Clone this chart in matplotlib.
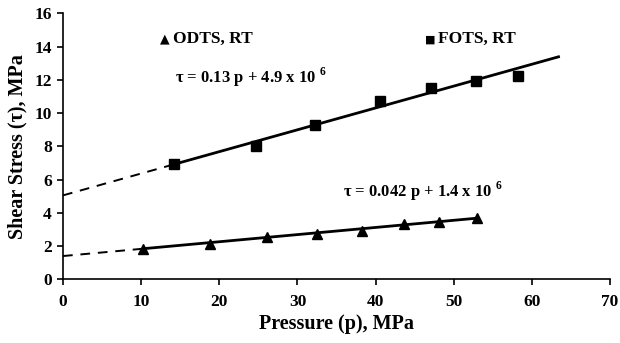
import numpy as np
import matplotlib
matplotlib.use("Agg")
import matplotlib.pyplot as plt

plt.rcParams['font.family'] = ['Liberation Serif', 'DejaVu Serif']
plt.rcParams['font.weight'] = 'bold'
plt.rcParams['mathtext.fontset'] = 'custom'
plt.rcParams['mathtext.rm'] = 'Liberation Serif'
plt.rcParams['mathtext.bf'] = 'Liberation Serif:bold'

# FOTS, RT data (pressure MPa, shear stress MPa)
fots_p = [14.2, 24.7, 32.3, 40.6, 47.1, 52.8, 58.2]
fots_tau = [6.94, 8.05, 9.28, 10.7, 11.54, 11.95, 12.25]
# ODTS, RT data
odts_p = [10.3, 18.8, 26.1, 32.5, 38.3, 43.6, 48.1, 53.0]
odts_tau = [1.81, 2.13, 2.57, 2.73, 2.91, 3.31, 3.45, 3.71]

# fitted lines as drawn (slope, intercept) and solid range
fots_fit = (0.1315, 5.05)
fots_range = (14.2, 63.4)
odts_fit = (0.043, 1.4)
odts_range = (10.3, 53.0)


def main():
    fig = plt.figure(figsize=(6.2, 3.43), dpi=100)
    ax = fig.add_axes([0.1016, 0.1857, 0.8824, 0.7753])

    for (m, b), (lo, hi) in [(fots_fit, fots_range), (odts_fit, odts_range)]:
        xs = np.array([lo, hi])
        ax.plot(xs, m * xs + b, color='black', lw=2.0, zorder=2)
        xd = np.array([0, lo])
        ax.plot(xd, m * xd + b, color='black', lw=1.4, ls=(0, (5, 4)), zorder=2)

    ax.plot(fots_p, fots_tau, 's', color='black', ms=6.5, zorder=3)
    ax.plot(odts_p, odts_tau, '^', color='black', ms=7.5, zorder=3)

    ax.set_xlim(0, 70)
    ax.set_ylim(0, 16)
    ax.set_xticks(range(0, 71, 10))
    ax.set_yticks(range(0, 17, 2))
    for s in ['top', 'right']:
        ax.spines[s].set_visible(False)
    for s in ['left', 'bottom']:
        ax.spines[s].set_linewidth(1.2)
    ax.tick_params(direction='out', length=4.5, width=1.2, labelsize=12.5)
    for lab in ax.get_xticklabels() + ax.get_yticklabels():
        lab.set_fontweight('bold')
    ax.tick_params(axis='x', pad=6)

    ax.set_xlabel('Pressure (p), MPa', fontsize=14.5, fontweight='bold', labelpad=3)
    ax.set_ylabel('Shear Stress (\u03c4), MPa', fontsize=14.5, fontweight='bold', labelpad=5)

    # legend-like labels: marker glyph + text
    ax.text(0.177, 0.889, '\u25b2', transform=ax.transAxes, fontsize=9,
            va='baseline', family='DejaVu Sans')
    ax.text(0.201, 0.889, 'ODTS, RT', transform=ax.transAxes, fontsize=12.5,
            fontweight='bold', va='baseline')
    ax.text(0.662, 0.889, '\u25a0', transform=ax.transAxes, fontsize=8,
            va='baseline', family='DejaVu Sans')
    ax.text(0.686, 0.889, 'FOTS, RT', transform=ax.transAxes, fontsize=12.5,
            fontweight='bold', va='baseline')

    ax.text(0.205, 0.739, '\u03c4 = 0.13 p + 4.9 x 10 $^{\\mathbf{6}}$', transform=ax.transAxes,
            fontsize=12, fontweight='bold', va='baseline')
    ax.text(0.512, 0.31, '\u03c4 = 0.042 p + 1.4 x 10 $^{\\mathbf{6}}$', transform=ax.transAxes,
            fontsize=12, fontweight='bold', va='baseline')

    fig.savefig('out.png', dpi=100)


if __name__ == '__main__':
    main()
